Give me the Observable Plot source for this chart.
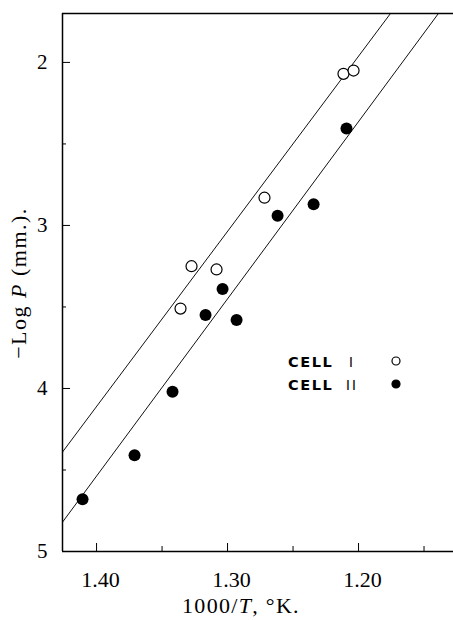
<!DOCTYPE html>
<html>
<head>
<meta charset="utf-8">
<script src="https://cdn.jsdelivr.net/npm/d3@7"></script>
<script src="https://cdn.jsdelivr.net/npm/@observablehq/plot@0.6"></script>
<style>
  html, body { margin: 0; padding: 0; background: #fff; }
  #chart svg { display: block; }
</style>
</head>
<body>
<div id="chart"></div>
<script>
// ---- data ----
const cellIX = [1.2115, 1.2038, 1.2718, 1.3275, 1.3084, 1.3359];
const cellIY = [2.07, 2.05, 2.83, 3.25, 3.27, 3.51];

const cellIIX = [1.2092, 1.2343, 1.2618, 1.3038, 1.3168, 1.2931, 1.3420, 1.3710, 1.4107];
const cellIIY = [2.405, 2.87, 2.94, 3.39, 3.55, 3.58, 4.02, 4.41, 4.68];

// fitted lines (end points as drawn)
const fitIX = [1.426, 1.1756];
const fitIY = [4.39, 1.70];
const fitIIX = [1.426, 1.139];
const fitIIY = [4.82, 1.70];

const xDomain = [1.426, 1.1275];
const yDomain = [1.70, 5];
const xMajor = [1.40, 1.30, 1.20];
const xMinor = [1.35, 1.25, 1.15];
const yMajor = [2, 3, 4, 5];
const yMinor = [2.5, 3.5, 4.5];

const legendLabels = ["CELL", "CELL"];
const legendNumerals = ["I", "II"];

// ---- build ----
const ptsI = cellIX.map((x, i) => ({x, y: cellIY[i]}));
const ptsII = cellIIX.map((x, i) => ({x, y: cellIIY[i]}));
const lineI = fitIX.map((x, i) => ({x, y: fitIY[i]}));
const lineII = fitIIX.map((x, i) => ({x, y: fitIIY[i]}));

const W = 453, H = 620;
const serif = "'Liberation Serif', 'Times New Roman', serif";

const plot = Plot.plot({
  width: W,
  height: H,
  marginLeft: 62,
  marginRight: 0,
  marginTop: 13,
  marginBottom: 69,
  style: {fontFamily: serif, fontSize: "22px", background: "#fff", color: "#000", overflow: "visible"},
  x: {domain: xDomain},
  y: {domain: yDomain, reverse: true},
  marks: [
    Plot.line(lineI, {x: "x", y: "y", stroke: "#111", strokeWidth: 1, clip: true}),
    Plot.line(lineII, {x: "x", y: "y", stroke: "#111", strokeWidth: 1, clip: true}),
    // frame lines
    Plot.ruleX([xDomain[0]], {stroke: "#000", strokeWidth: 1.5}),
    Plot.ruleY([yDomain[1]], {stroke: "#000", strokeWidth: 1.5}),
    Plot.ruleY([yDomain[0]], {stroke: "#000", strokeWidth: 1.5}),
    // y axis ticks (inward) and labels
    Plot.axisY(yMajor, {tickSize: -8, text: null, label: null, strokeWidth: 1}),
    Plot.axisY(yMinor, {tickSize: -4, text: null, label: null, strokeWidth: 1}),
    Plot.axisY(yMajor, {tickSize: 0, tickPadding: 15, label: null, fontSize: 21, tickFormat: d => String(d)}),
    // x axis ticks (inward) and labels
    Plot.axisX(xMajor, {tickSize: -8, text: null, label: null, strokeWidth: 1}),
    Plot.axisX(xMinor, {tickSize: -5, text: null, label: null, strokeWidth: 1}),
    Plot.axisX(xMajor, {tickSize: 0, tickPadding: 20, label: null, fontSize: 22, dx: 4, tickFormat: d => d.toFixed(2)}),
    // data
    Plot.dot(ptsI, {x: "x", y: "y", r: 5.5, fill: "#fff", stroke: "#000", strokeWidth: 1.2}),
    Plot.dot(ptsII, {x: "x", y: "y", r: 6, fill: "#000", stroke: "none"})
  ]
});

document.getElementById("chart").appendChild(plot);

// ---- axis titles & legend (layout text appended to the same SVG) ----
const svg = d3.select(plot);

const xt = svg.append("text")
  .attr("x", 241).attr("y", 613)
  .attr("text-anchor", "middle")
  .attr("font-family", serif).attr("font-size", 22)
  .attr("letter-spacing", 1.3)
  .attr("fill", "#000");
xt.append("tspan").text("1000/");
xt.append("tspan").attr("font-style", "italic").text("T");
xt.append("tspan").text(", °K.");

const yt = svg.append("text")
  .attr("transform", "translate(26,283) rotate(-90)")
  .attr("text-anchor", "middle")
  .attr("font-family", serif).attr("font-size", 22)
  .attr("letter-spacing", 1.5)
  .attr("fill", "#000");
yt.append("tspan").text("\u2212Log ");
yt.append("tspan").attr("font-style", "italic").text("P");
yt.append("tspan").text(" (mm.).");

const legendRows = [361, 384];
legendLabels.forEach((lab, i) => {
  const cy = legendRows[i];
  svg.append("text")
    .attr("x", 288).attr("y", cy + 6)
    .attr("text-anchor", "start")
    .attr("font-family", "'DejaVu Sans', sans-serif").attr("font-weight", "bold")
    .attr("font-size", 14.5).attr("letter-spacing", 1.6)
    .attr("fill", "#000").text(lab);
  svg.append("text")
    .attr("x", 352).attr("y", cy + 6)
    .attr("text-anchor", "middle")
    .attr("font-family", "'Liberation Sans', sans-serif")
    .attr("font-size", 14).attr("letter-spacing", 2)
    .attr("fill", "#000").text(legendNumerals[i]);
  svg.append("circle")
    .attr("cx", 396).attr("cy", cy).attr("r", 4)
    .attr("fill", i === 0 ? "#fff" : "#000")
    .attr("stroke", "#000").attr("stroke-width", 1.2);
});
</script>
</body>
</html>
